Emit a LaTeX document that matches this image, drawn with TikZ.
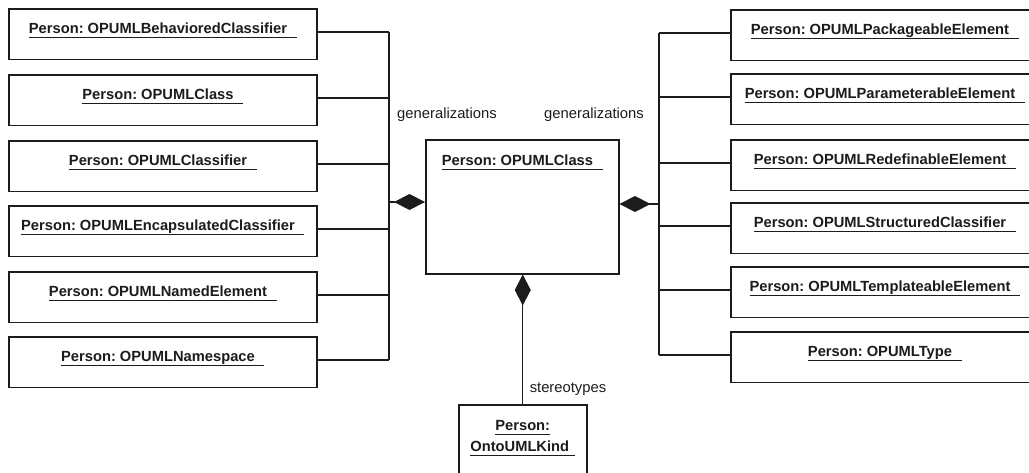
\documentclass[tikz,border=0pt]{standalone}
\usepackage{fontspec}
\setmainfont{Liberation Sans}
\usetikzlibrary{arrows.meta}
\definecolor{ink}{HTML}{1C1C1C}
\frenchspacing
% underlined instance name, the rule running past the text by #1
\newcommand\ultext[2][9.5pt]{\setbox0=\hbox{#2\kern#1}\rlap{\color{ink}\rule[-3.8pt]{\wd0}{1pt}}\box0}
% two centred lines whose baseline is the first one
\newcommand\twolines[2]{\vtop{\baselineskip=21pt\halign{\hfil##\hfil\cr#1\cr#2\cr}}}
\begin{document}
\begin{tikzpicture}[x=1pt,y=-1pt,
  box/.style={draw=ink, line width=1.5pt, fill=white, anchor=north west,
    inner xsep=0pt, inner ysep=0pt, text height=25pt, text depth=25.5pt,
    font=\fontsize{14.7}{21}\selectfont\bfseries, text=ink},
  sidebox/.style={box, minimum width=308pt},
  link/.style={draw=ink, line width=1.3pt},
  comp/.style={link, -{Diamond[length=31pt,width=16pt]}},
  role/.style={font=\fontsize{14.8}{17}\selectfont, text=ink, inner sep=0pt, anchor=base}]
\useasboundingbox (0,0) rectangle (1029,472);
\clip (0,0) rectangle (1029,472);
\fill[white] (0,0) rectangle (1029,472);

% left column
\node[sidebox] (l1) at (8,8)   {\ultext{Person: OPUMLBehavioredClassifier}};
\node[sidebox] (l2) at (8,74)  {\ultext{Person: OPUMLClass}};
\node[sidebox] (l3) at (8,140) {\ultext{Person: OPUMLClassifier}};
\node[sidebox] (l4) at (8,205) {\ultext{Person: OPUMLEncapsulatedClassifier}};
\node[sidebox] (l5) at (8,271) {\ultext{Person: OPUMLNamedElement}};
\node[sidebox] (l6) at (8,336) {\ultext{Person: OPUMLNamespace}};

% right column
\node[sidebox] (r1) at (730,9)   {\ultext{Person: OPUMLPackageableElement}};
\node[sidebox] (r2) at (730,73)  {\ultext{Person: OPUMLParameterableElement}};
\node[sidebox] (r3) at (730,139) {\ultext{Person: OPUMLRedefinableElement}};
\node[sidebox] (r4) at (730,202) {\ultext{Person: OPUMLStructuredClassifier}};
\node[sidebox] (r5) at (730,266) {\ultext{Person: OPUMLTemplateableElement}};
\node[sidebox] (r6) at (730,331) {\ultext{Person: OPUMLType}};

% central class and its stereotype
\node[box, minimum width=193pt, text height=26pt, text depth=108pt] (cls) at (425,139)
  {\ultext{Person: OPUMLClass}};
\node[box, minimum width=128pt, text height=26pt, text depth=60pt] (kind) at (458,404)
  {\twolines{\ultext[0pt]{Person:}}{\ultext[6pt]{OntoUMLKind}}};

% bus lines
\coordinate (lbus) at (389,0);
\coordinate (rbus) at (659,0);
\foreach \i in {1,...,6}{
  \draw[link] ([yshift=2pt]l\i.east) -- ([yshift=2pt]l\i.east -| lbus);
  \draw[link] ([yshift=2pt]r\i.west) -- ([yshift=2pt]r\i.west -| rbus);
}
\draw[link] ([yshift=2pt]l1.east -| lbus) -- ([yshift=2pt]l6.east -| lbus);
\draw[link] ([yshift=2pt]r1.west -| rbus) -- ([yshift=2pt]r6.west -| rbus);

% composition ends
\coordinate (lj) at (389,202);
\coordinate (rj) at (659,204);
\draw[comp] (lj) -- (lj -| cls.west);
\draw[comp] (rj) -- (rj -| cls.east);
\draw[comp] (kind.north) -- (kind.north |- cls.south);

% role names
\node[role] (gl) at (447,118) {generalizations};
\node[role] (gr) at (594,118) {generalizations};
\node[role] (st) at (568,392) {stereotypes};
\end{tikzpicture}
\end{document}
